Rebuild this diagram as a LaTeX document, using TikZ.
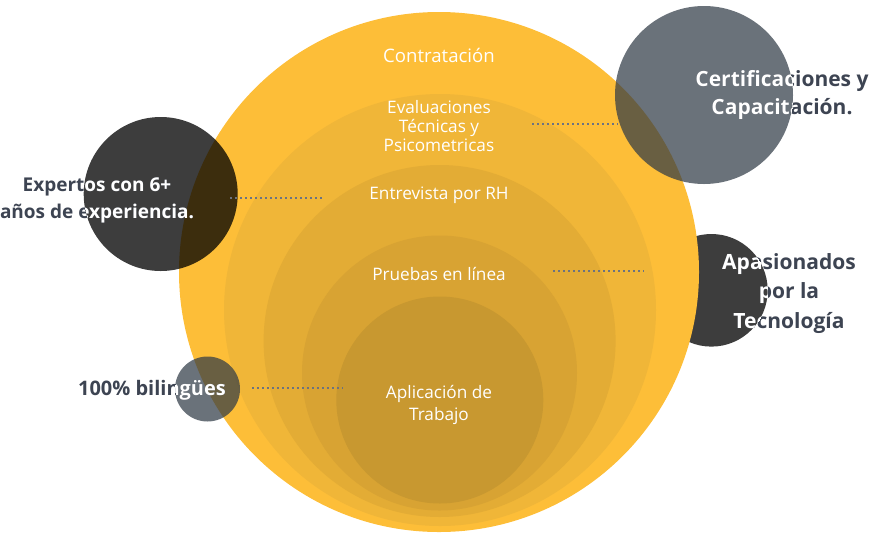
\documentclass[tikz,border=0pt]{standalone}
\usepackage{fontspec}
\setmainfont{Open Sans}
\definecolor{yA}{HTML}{FDBE38}
\definecolor{yB}{HTML}{F0B638}
\definecolor{yC}{HTML}{E3AC35}
\definecolor{yD}{HTML}{D8A333}
\definecolor{yE}{HTML}{C89830}
\definecolor{txtdark}{HTML}{3D4452}
\definecolor{greyc}{HTML}{313B46}
\definecolor{dotc}{HTML}{6B7280}
\begin{document}
\begin{tikzpicture}[x=1pt,y=-1pt,
  disc/.style={circle, inner sep=0pt, draw=none, minimum size=#1},
  darkdisc/.style={disc=#1, fill=black, fill opacity=0.76},
  greydisc/.style={disc=#1, fill=greyc, fill opacity=0.72},
  inlbl/.style={text=white, align=center, font=\fontsize{17.2}{19.2}\selectfont},
  outlbl/.style={align=center, font=\bfseries\fontsize{#1}{28.5}\selectfont},
  dotline/.style={draw=dotc, line width=1.8pt, dash pattern=on 1.8pt off 3.2pt}]
\useasboundingbox (0,0) rectangle (896,542);
% circle behind
\node[darkdisc=112.6pt] (apasC) at (711.4,290.3) {};
% nested rings
\node[disc=520pt, fill=yA] (r1) at (439,272) {};
\node[disc=432pt, fill=yB] (r2) at (440,310) {};
\node[disc=352pt, fill=yC] (r3) at (439.6,341) {};
\node[disc=275pt, fill=yD] (r4) at (439.5,373) {};
\node[disc=207pt, fill=yE] (r5) at (439.8,400) {};
% circles in front
\node[darkdisc=154pt] (expC) at (160.7,194) {};
\node[greydisc=178pt] (certC) at (704,95) {};
\node[greydisc=65pt] (bilC) at (207.5,389) {};
% inner texts
\node[inlbl, font=\fontsize{18.6}{20}\selectfont] (tContr) at (439,55) {Contratación};
\node[inlbl] (tEval) at (439,126) {Evaluaciones\\Técnicas y\\Psicometricas};
\node[inlbl] (tEntr) at (439,195) {Entrevista por RH};
\node[inlbl] (tPrue) at (439,274) {Pruebas en línea};
\node[inlbl, font=\fontsize{17.2}{22.5}\selectfont] (tApli) at (439,405) {Aplicación de\\Trabajo};
% dotted connectors
\coordinate (d1a) at (230,198); \coordinate (d1b) at (322,198);
\coordinate (d2a) at (532,124); \coordinate (d2b) at (618,124);
\coordinate (d3a) at (553,271); \coordinate (d3b) at (644,271);
\coordinate (d4a) at (252,388); \coordinate (d4b) at (343,388);
\draw[dotline] (d1a) -- (d1b);
\draw[dotline] (d2a) -- (d2b);
\draw[dotline] (d3a) -- (d3b);
\draw[dotline] (d4a) -- (d4b);
% outer labels, dark
\node[outlbl=19, text=txtdark, font=\bfseries\fontsize{19}{27}\selectfont] (tExp) at (97,200) {Expertos con 6+\\años de experiencia.};
\node[outlbl=21, text=txtdark] (tCert) at (782,95) {Certificaciones y\\Capacitación.};
\node[outlbl=21, text=txtdark, font=\bfseries\fontsize{21}{29.5}\selectfont] (tApas) at (789,293.5) {Apasionados\\por la\\Tecnología};
\node[outlbl=20, text=txtdark] (tBil) at (152,390) {100\% bilingües};
% white parts inside circles
\begin{scope}
\clip (expC.center) circle [radius=77pt];
\node[outlbl=19, text=white, font=\bfseries\fontsize{19}{27}\selectfont] (tExpW) at (97,200) {Expertos con 6+\\años de experiencia.};
\end{scope}
\begin{scope}
\clip (certC.center) circle [radius=89pt];
\node[outlbl=21, text=white] (tCertW) at (782,95) {Certificaciones y\\Capacitación.};
\end{scope}
\begin{scope}
\clip (apasC.center) circle [radius=56.3pt];
\node[outlbl=21, text=white, font=\bfseries\fontsize{21}{29.5}\selectfont] (tApasW) at (789,293.5) {Apasionados\\por la\\Tecnología};
\end{scope}
\begin{scope}
\clip (bilC.center) circle [radius=32.5pt];
\node[outlbl=20, text=white] (tBilW) at (152,390) {100\% bilingües};
\end{scope}
\end{tikzpicture}
\end{document}
